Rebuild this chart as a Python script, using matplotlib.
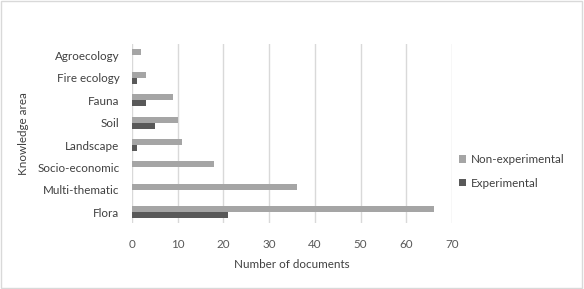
import numpy as np
import matplotlib.pyplot as plt
from matplotlib.patches import Rectangle

plt.rcParams['font.family'] = ['Lato', 'DejaVu Sans']

categories = ['Flora', 'Multi-thematic', 'Socio-economic', 'Landscape',
              'Soil', 'Fauna', 'Fire ecology', 'Agroecology']
non_experimental = [66, 36, 18, 11, 10, 9, 3, 2]
experimental = [21, 0, 0, 1, 5, 3, 1, 0]

light = '#a5a5a5'
dark = '#595959'
txt = '#404040'
fs = 8.4

fig = plt.figure(figsize=(5.84, 2.89), dpi=100)
ax = fig.add_axes([0.226, 0.227, 0.548, 0.62])

y = np.arange(len(categories))
h = 0.27
ax.barh(y + h / 2, non_experimental, height=h, color=light, label='Non-experimental', zorder=3)
ax.barh(y - h / 2, experimental, height=h, color=dark, label='Experimental', zorder=3)

ax.set_xlim(0, 70)
ax.set_ylim(-0.5, len(categories) - 0.5)
ax.set_xticks(range(0, 71, 10))
ax.set_yticks(y)
ax.set_yticklabels(categories)
ax.grid(axis='x', color='#d9d9d9', linewidth=1, zorder=0)
for s in ax.spines.values():
    s.set_visible(False)
ax.tick_params(length=0, labelsize=fs, colors=txt, pad=9)
ax.tick_params(axis='x', colors='#595959', pad=11)
ax.set_xlabel('Number of documents', fontsize=fs, color=txt, labelpad=7)
ax.set_ylabel('Knowledge area', fontsize=fs, color=txt, labelpad=6)

ax.legend(loc='center left', bbox_to_anchor=(0.99, 0.29), frameon=False,
          fontsize=fs, labelcolor=txt, handlelength=0.6, handleheight=0.6,
          handletextpad=0.4, labelspacing=1.05)

fig.patches.append(Rectangle((0.002, 0.003), 0.995, 0.993, transform=fig.transFigure,
                             fill=False, edgecolor='#d9d9d9', linewidth=1))

fig.savefig('out.png', dpi=100)
